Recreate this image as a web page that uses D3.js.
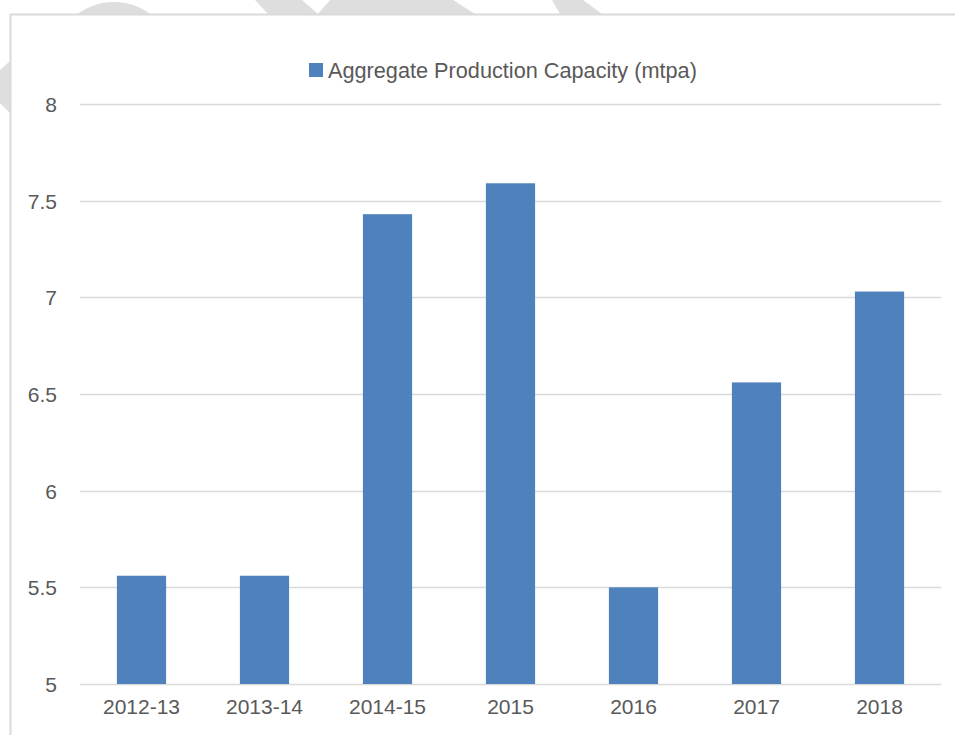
<!DOCTYPE html>
<html>
<head>
<meta charset="utf-8">
<script src="https://cdn.jsdelivr.net/npm/d3@7"></script>
<style>
  html, body { margin: 0; padding: 0; background: #ffffff; }
  svg { display: block; }
</style>
</head>
<body>
<svg id="chart" width="955" height="735"></svg>
<script>
// ---- data ----
const categories = ["2012-13", "2013-14", "2014-15", "2015", "2016", "2017", "2018"];
const capacityValues = [5.56, 5.56, 7.43, 7.59, 5.50, 6.56, 7.03];
const yTickValues = [5, 5.5, 6, 6.5, 7, 7.5, 8];
const yTickLabels = ["5", "5.5", "6", "6.5", "7", "7.5", "8"];
const seriesName = "Aggregate Production Capacity (mtpa)";

const W = 955, H = 735;
const svg = d3.select("#chart");
const font = "'Liberation Sans', Arial, sans-serif";
const textColor = "#595959";
const gridColor = "#d9d9d9";
const barColor = "#4f81bd";

// ---- background watermark fragments (behind the chart area) ----
const wm = svg.append("g").attr("fill", "#dedede");
wm.append("ellipse").attr("cx", 114).attr("cy", 60).attr("rx", 60).attr("ry", 58);
wm.append("polygon").attr("points", "255,0 302,0 318,14 268,14");
wm.append("polygon").attr("points", "330,0 453,0 475,14 318,14");
wm.append("polygon").attr("points", "552,0 583,0 602,14 560,14");
wm.append("polygon").attr("points", "0,70 10,61 10,113 0,103");

// ---- chart area (white panel with frame) ----
svg.append("rect").attr("x", 10).attr("y", 14).attr("width", W - 10).attr("height", H - 14).attr("fill", "#ffffff");
svg.append("line").attr("x1", 10).attr("x2", W).attr("y1", 14.5).attr("y2", 14.5)
  .attr("stroke", gridColor).attr("stroke-width", 2);
svg.append("line").attr("x1", 10.5).attr("x2", 10.5).attr("y1", 14).attr("y2", H)
  .attr("stroke", gridColor).attr("stroke-width", 2);

// ---- scales ----
const plot = { left: 80, right: 941, top: 104, bottom: 684 };
const x = d3.scaleBand().domain(categories).range([plot.left, plot.right])
  .paddingInner(0.6).paddingOuter(0.3);
const y = d3.scaleLinear().domain([5, 8]).range([plot.bottom, plot.top]);

// ---- gridlines ----
svg.append("g").selectAll("line").data(yTickValues).join("line")
  .attr("x1", plot.left).attr("x2", plot.right)
  .attr("y1", d => Math.round(y(d)) + 0.5).attr("y2", d => Math.round(y(d)) + 0.5)
  .attr("stroke", gridColor).attr("stroke-width", 1.5);

// ---- bars ----
svg.append("g").selectAll("rect").data(capacityValues).join("rect")
  .attr("x", (d, i) => x(categories[i]))
  .attr("width", x.bandwidth())
  .attr("y", d => y(d))
  .attr("height", d => y(5) - y(d))
  .attr("fill", barColor);

// ---- y axis ----
const yAxis = d3.axisLeft(y).tickValues(yTickValues)
  .tickFormat((d, i) => yTickLabels[i]).tickSize(0).tickPadding(0);
const gy = svg.append("g").attr("transform", "translate(57,0)").call(yAxis);
gy.select(".domain").remove();
gy.selectAll("text").attr("font-family", font).attr("font-size", 21)
  .attr("fill", textColor).attr("dy", "0.35em");

// ---- x axis ----
const xAxis = d3.axisBottom(x).tickSize(0).tickPadding(0);
const gx = svg.append("g").attr("transform", "translate(0,707)").call(xAxis);
gx.select(".domain").remove();
gx.selectAll("text").attr("font-family", font).attr("font-size", 21)
  .attr("fill", textColor).attr("dy", "0.35em");

// ---- legend ----
const lg = svg.append("g").attr("transform", "translate(309,63)");
lg.append("rect").attr("width", 14).attr("height", 14).attr("fill", barColor);
lg.append("text").attr("x", 19).attr("y", 7).attr("dy", "0.35em")
  .attr("font-family", font).attr("font-size", 21.7).attr("fill", textColor)
  .text(seriesName);
</script>
</body>
</html>
